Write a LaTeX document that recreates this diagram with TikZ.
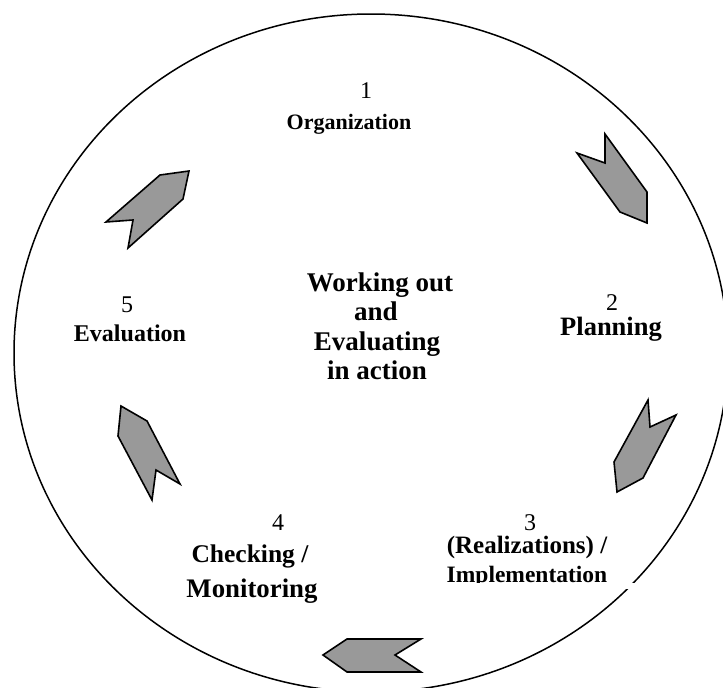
\documentclass[tikz,border=0pt]{standalone}
\usepackage{fontspec}
\setmainfont{Liberation Serif}
\begin{document}
\begin{tikzpicture}[x=1pt,y=-1pt,
  cyclearrow/.style={draw=black, line width=1.6pt, fill=black!40, line join=miter},
  numlabel/.style={anchor=base, inner sep=0pt, font=\fontsize{24}{26}\selectfont},
  steplabel/.style={anchor=base, inner sep=0pt},
  centrelabel/.style={steplabel, font=\bfseries\fontsize{27}{29.5}\selectfont},
  ring/.style={draw=black, line width=1.5pt},
]
\useasboundingbox (0,0) rectangle (723,688);
\begin{scope}
\clip (0,0) rectangle (723,688);
% outer ring of the cycle
\draw[ring] (371,353) ellipse [x radius=357, y radius=339];
% small break in the ring below the third label
\fill[white] (624,583) rectangle (641,589);
\end{scope}

% arrows between the stages
\draw[cyclearrow] (605,134) -- (647,192) -- (647,223) -- (620,212) -- (577,153) -- (605,163) -- cycle;
\draw[cyclearrow] (648,400) -- (650,427) -- (676,415) -- (643,478) -- (617,492) -- (614,462) -- cycle;
\draw[cyclearrow] (421,639) -- (395,655) -- (421,672) -- (347,672) -- (323,655) -- (347,639) -- cycle;
\draw[cyclearrow] (121,406) -- (147,421) -- (180,484) -- (156,470) -- (152,500) -- (118,436) -- cycle;
\draw[cyclearrow] (189,171) -- (183,199) -- (128,248) -- (133,220) -- (106,222) -- (160,175) -- cycle;

% centre text
\node[centrelabel] (centre1) at (380,291) {Working out};
\node[centrelabel] (centre2) at (376,320) {and};
\node[centrelabel] (centre3) at (377,350) {Evaluating};
\node[centrelabel] (centre4) at (377,379) {in action};

% stage 1
\node[numlabel] (num1) at (366,98) {1};
\node[steplabel, font=\bfseries\fontsize{22}{24}\selectfont] (stage1) at (349,129) {Organization};

% stage 2
\node[numlabel] (num2) at (612,310) {2};
\node[steplabel, font=\bfseries\fontsize{26.5}{28}\selectfont] (stage2) at (611,335) {Planning};

% stage 3
\node[numlabel] (num3) at (530,530) {3};
\node[steplabel, font=\bfseries\fontsize{25}{27}\selectfont] (stage3a) at (527,553) {(Realizations) /};
\begin{scope}
\clip (400,560) rectangle (660,582);
\node[steplabel, font=\bfseries\fontsize{23.5}{25}\selectfont] (stage3b) at (527,582) {Implementation};
\end{scope}

% stage 4
\node[numlabel] (num4) at (278,530) {4};
\node[steplabel, font=\bfseries\fontsize{25.5}{28}\selectfont] (stage4a) at (250,562) {Checking /};
\node[steplabel, font=\bfseries\fontsize{26.8}{29}\selectfont] (stage4b) at (252,597) {Monitoring};

% stage 5
\node[numlabel] (num5) at (127,312) {5};
\node[steplabel, font=\bfseries\fontsize{24}{26}\selectfont] (stage5) at (130,341) {Evaluation};
\end{tikzpicture}
\end{document}
